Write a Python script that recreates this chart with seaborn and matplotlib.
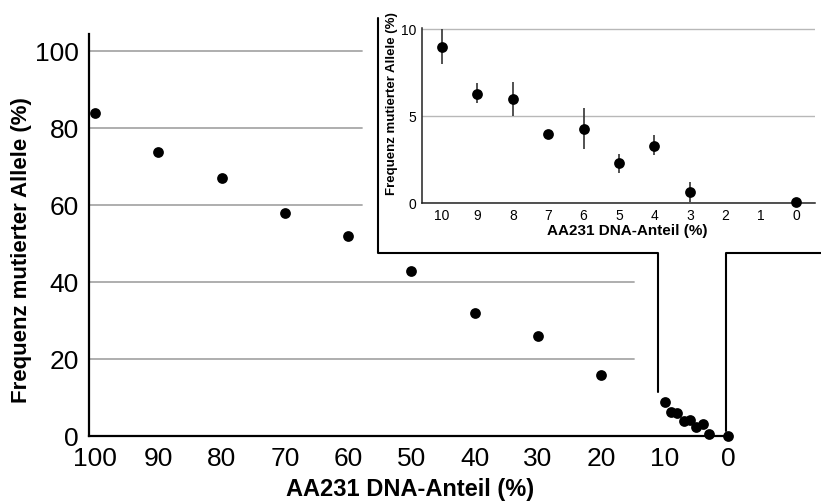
import seaborn as sns
import matplotlib.pyplot as plt
import pandas as pd

# Daten
anteil = [100, 90, 80, 70, 60, 50, 40, 30, 20, 10, 9, 8, 7, 6, 5, 4, 3, 0]
frequenz = [84, 74, 67, 58, 52, 43, 32, 26, 16, 9.0, 6.3, 6.0, 4.0, 4.3, 2.3, 3.3, 0.65, 0.1]

inset_anteil = [10, 9, 8, 7, 6, 5, 4, 3, 0]
inset_frequenz = [9.0, 6.3, 6.0, 4.0, 4.3, 2.3, 3.3, 0.65, 0.1]
fehler_unten = [1.0, 0.55, 1.0, 0.0, 1.15, 0.55, 0.55, 0.55, 0.0]
fehler_oben = [1.0, 0.6, 1.0, 0.0, 1.2, 0.55, 0.6, 0.55, 0.0]

main_yticks = [0, 20, 40, 60, 80, 100]
main_xticks = [100, 90, 80, 70, 60, 50, 40, 30, 20, 10, 0]
inset_yticks = [0, 5, 10]
inset_xticks = [10, 9, 8, 7, 6, 5, 4, 3, 2, 1, 0]

xlabel = "AA231 DNA-Anteil (%)"
ylabel = "Frequenz mutierter Allele (%)"

sns.set_style("white")
plt.rcParams["font.family"] = ["Liberation Sans", "DejaVu Sans"]
plt.rcParams["text.color"] = "black"
plt.rcParams["axes.labelcolor"] = "black"
plt.rcParams["xtick.color"] = "black"
plt.rcParams["ytick.color"] = "black"

df = pd.DataFrame({"x": anteil, "y": frequenz})
df_in = pd.DataFrame({"x": inset_anteil, "y": inset_frequenz})

fig = plt.figure(figsize=(8.21, 5.04), dpi=100)

# Hauptdiagramm
ax = fig.add_axes([0.108, 0.1343, 0.7833, 0.798])
ax.set_facecolor("none")
sns.scatterplot(data=df, x="x", y="y", ax=ax, color="black", s=60,
                edgecolor="black", linewidth=0, zorder=5, clip_on=False)
ax.set_xlim(101, -0.6)
ax.set_ylim(0, 104.5)
ax.set_xticks(main_xticks)
ax.set_yticks(main_yticks)
ax.tick_params(axis="both", direction="out", length=4, width=1.3,
               labelsize=19, color="black", labelcolor="black")
ax.tick_params(axis="x", pad=4)
ax.tick_params(axis="y", pad=3)
for s in ["top", "right"]:
    ax.spines[s].set_visible(False)
for s in ["left", "bottom"]:
    ax.spines[s].set_linewidth(1.6)
    ax.spines[s].set_color("black")

# Gitterlinien mit begrenzter Länge
for yv in [60, 80, 100]:
    ax.plot([101, 57.8], [yv, yv], color="#a8a8a8", lw=1.3, zorder=1)
for yv in [20, 40]:
    ax.plot([101, 14.85], [yv, yv], color="#a8a8a8", lw=1.3, zorder=1)

ax.set_xlabel(xlabel, fontsize=17, fontweight="bold", color="black")
ax.set_ylabel(ylabel, fontsize=16, fontweight="bold", color="black")
ax.xaxis.set_label_coords(0.499, -0.103)
ax.yaxis.set_label_coords(-0.088, 0.463)

# Klammer zum Inset
ax.plot([55.3, 55.3, 11.1, 11.1], [108.6, 47.5, 47.5, 11.5],
        color="black", lw=1.5, clip_on=False, zorder=3)
ax.plot([0.35, 0.35, -14.8], [1.3, 47.5, 47.5],
        color="black", lw=1.5, clip_on=False, zorder=3)

# Inset
ax2 = fig.add_axes([0.5146, 0.5966, 0.4787, 0.3486])
ax2.set_facecolor("none")
ax2.errorbar(inset_anteil, inset_frequenz, yerr=[fehler_unten, fehler_oben],
             fmt="none", ecolor="#333333", elinewidth=1.2, capsize=0, zorder=3)
sns.scatterplot(data=df_in, x="x", y="y", ax=ax2, color="black", s=60,
                edgecolor="black", linewidth=0, zorder=5, clip_on=False)
ax2.set_xlim(10.55, -0.55)
ax2.set_ylim(0, 10.1)
ax2.set_xticks(inset_xticks)
ax2.set_xticks([i + 0.5 for i in range(10)], minor=True)
ax2.set_yticks(inset_yticks)
ax2.tick_params(axis="x", which="major", length=0, labelsize=10, pad=4)
ax2.tick_params(axis="x", which="minor", length=2, width=1, direction="out")
ax2.tick_params(axis="y", length=3, width=1, direction="out", labelsize=10, pad=1.5)
ax2.yaxis.grid(True, color="#b8b8b8", lw=1.0)
ax2.set_axisbelow(True)
for s in ["top", "right"]:
    ax2.spines[s].set_visible(False)
for s in ["left", "bottom"]:
    ax2.spines[s].set_linewidth(1.1)
    ax2.spines[s].set_color("#222222")
ax2.set_xlabel(xlabel, fontsize=11, fontweight="bold", color="black")
ax2.set_ylabel(ylabel, fontsize=9.5, fontweight="bold", color="black")
ax2.xaxis.set_label_coords(0.522, -0.115)
ax2.yaxis.set_label_coords(-0.062, 0.565)

fig.savefig("out.png", dpi=100)
